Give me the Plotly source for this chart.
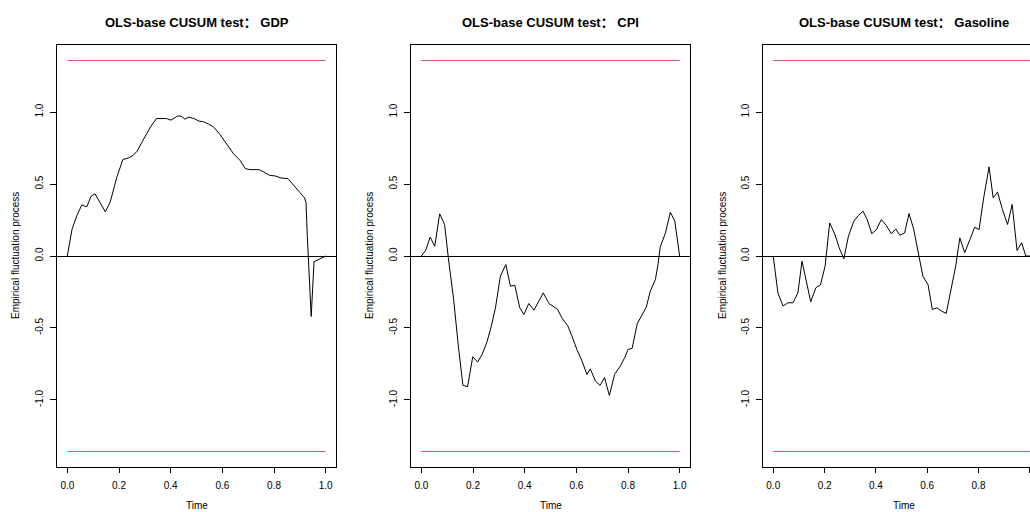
import plotly.graph_objects as go

# ---------------- data ----------------
time_gdp = [0.0, 0.018, 0.036, 0.056, 0.075, 0.092, 0.107, 0.147, 0.166, 0.192, 0.215, 0.238,
            0.254, 0.270, 0.293, 0.322, 0.345, 0.384, 0.401, 0.426, 0.440, 0.455, 0.471, 0.490,
            0.510, 0.527, 0.546, 0.565, 0.591, 0.617, 0.643, 0.669, 0.689, 0.708, 0.743, 0.760,
            0.783, 0.805, 0.827, 0.854, 0.876, 0.900, 0.918, 0.924, 0.929, 0.933, 0.944, 0.955,
            0.966, 1.0]
gdp = [0.0, 0.184, 0.277, 0.355, 0.341, 0.415, 0.432, 0.307, 0.376, 0.550, 0.670, 0.682,
       0.698, 0.728, 0.804, 0.897, 0.955, 0.955, 0.944, 0.972, 0.972, 0.951, 0.965, 0.955,
       0.937, 0.933, 0.917, 0.898, 0.844, 0.779, 0.711, 0.663, 0.607, 0.600, 0.600, 0.584,
       0.560, 0.556, 0.542, 0.537, 0.488, 0.442, 0.405, 0.372, 0.135, 0.0, -0.42, -0.04,
       -0.03, 0.0]

time_cpi = [0.0, 0.017, 0.034, 0.052, 0.071, 0.090, 0.105, 0.125, 0.144, 0.161, 0.179, 0.199,
            0.218, 0.235, 0.254, 0.271, 0.287, 0.306, 0.327, 0.345, 0.362, 0.381, 0.397, 0.416,
            0.436, 0.455, 0.472, 0.494, 0.527, 0.546, 0.566, 0.583, 0.602, 0.622, 0.641, 0.654,
            0.674, 0.692, 0.709, 0.728, 0.748, 0.770, 0.787, 0.800, 0.816, 0.836, 0.851, 0.871,
            0.886, 0.906, 0.916, 0.925, 0.945, 0.964, 0.981, 1.0]
cpi = [0.0, 0.04, 0.131, 0.068, 0.293, 0.219, -0.02, -0.302, -0.638, -0.899, -0.908, -0.70,
       -0.737, -0.684, -0.598, -0.487, -0.36, -0.14, -0.059, -0.21, -0.204, -0.36, -0.406, -0.33,
       -0.376, -0.313, -0.256, -0.33, -0.37, -0.436, -0.482, -0.557, -0.649, -0.73, -0.823, -0.784,
       -0.869, -0.899, -0.845, -0.969, -0.823, -0.765, -0.707, -0.649, -0.642, -0.469, -0.418, -0.355,
       -0.245, -0.164, -0.06, 0.064, 0.161, 0.304, 0.242, 0.0]

time_gas = [0.0, 0.018, 0.038, 0.057, 0.077, 0.096, 0.112, 0.129, 0.146, 0.166, 0.184, 0.202,
            0.220, 0.240, 0.257, 0.275, 0.293, 0.314, 0.331, 0.350, 0.366, 0.384, 0.402, 0.421,
            0.441, 0.460, 0.477, 0.493, 0.512, 0.529, 0.547, 0.564, 0.583, 0.603, 0.620, 0.638,
            0.656, 0.674, 0.694, 0.711, 0.727, 0.746, 0.766, 0.785, 0.802, 0.820, 0.841, 0.857,
            0.874, 0.893, 0.913, 0.931, 0.950, 0.968, 0.984, 1.0]
gas = [0.0, -0.256, -0.348, -0.325, -0.325, -0.256, -0.036, -0.185, -0.318, -0.22, -0.20, -0.07,
       0.23, 0.15, 0.057, -0.02, 0.138, 0.242, 0.28, 0.311, 0.253, 0.155, 0.183, 0.253,
       0.211, 0.155, 0.188, 0.144, 0.16, 0.295, 0.188, 0.033, -0.14, -0.198, -0.371, -0.36,
       -0.383, -0.399, -0.22, -0.07, 0.126, 0.023, 0.112, 0.2, 0.183, 0.404, 0.619, 0.404,
       0.444, 0.323, 0.219, 0.358, 0.038, 0.092, 0.0, 0.0]

boundary = 1.358
boundary_time = [0.0, 1.0]

x_ticks = [0.0, 0.2, 0.4, 0.6, 0.8, 1.0]
x_tick_labels = ["0.0", "0.2", "0.4", "0.6", "0.8", "1.0"]
y_ticks = [-1.0, -0.5, 0.0, 0.5, 1.0]
y_tick_labels = ["-1.0", "-0.5", "0.0", "0.5", "1.0"]

titles = ["OLS-base CUSUM test\uff1a GDP", "OLS-base CUSUM test\uff1a CPI",
          "OLS-base CUSUM test\uff1a Gasoline"]
x_title = "Time"
y_title = "Empirical fluctuation process"

series = [(time_gdp, gdp), (time_cpi, cpi), (time_gas, gas)]

# ---------------- layout geometry (pixels) ----------------
W, H = 1030, 512
box_left = [57, 411, 764]
box_w = 279
plot_top, plot_bot = 45, 467
FONT = "Liberation Sans, Arial, Noto Sans CJK SC, sans-serif"
RED = "#DF536B"

fig = go.Figure()
annotations = []
for i, (t, v) in enumerate(series):
    n = "" if i == 0 else str(i + 1)
    xa, ya = "x" + n, "y" + n
    fig.add_trace(go.Scatter(x=t, y=v, mode="lines", xaxis=xa, yaxis=ya,
                             line=dict(color="#000000", width=1), showlegend=False,
                             hoverinfo="skip"))
    for s in (1, -1):
        fig.add_trace(go.Scatter(x=boundary_time, y=[s * boundary] * len(boundary_time),
                                 mode="lines", xaxis=xa, yaxis=ya,
                                 line=dict(color=RED, width=1), showlegend=False,
                                 hoverinfo="skip"))

    left = box_left[i]
    if i < 2:
        dom = [left / W, (left + box_w) / W]
        xr = [-0.04, 1.04]
    else:
        dom = [(left - 1) / W, 1.0]
        xr = [-0.04, 1.0005]
    axis_common = dict(showgrid=False, showline=True, linecolor="#000000", linewidth=1,
                       ticks="outside", tickcolor="#000000", tickwidth=1,
                       tickfont=dict(family=FONT, size=10, color="#000000"))
    fig.layout["xaxis" + n] = dict(
        domain=dom, range=xr, anchor=ya, mirror=True, zeroline=False,
        tickvals=x_ticks, ticktext=x_tick_labels, ticklen=5, ticklabelstandoff=4,
        **axis_common)
    fig.layout["yaxis" + n] = dict(
        domain=[(H - plot_bot) / H, (H - plot_top) / H], range=[-1.466, 1.466],
        anchor=xa, mirror=(i < 2), zeroline=True, zerolinecolor="#000000", zerolinewidth=1,
        tickvals=y_ticks, ticktext=y_tick_labels, ticklen=6, tickangle=-90,
        ticklabelstandoff=3, **axis_common)

    cx = (left + box_w / 2) / W
    annotations.append(dict(text="<b>" + titles[i] + "</b>", x=cx, y=1 - 22 / H,
                            xref="paper", yref="paper", showarrow=False,
                            xanchor="center", yanchor="middle",
                            font=dict(family=FONT, size=13, color="#000000")))
    annotations.append(dict(text=x_title, x=cx, y=1 - 505.5 / H, xref="paper", yref="paper",
                            showarrow=False, xanchor="center", yanchor="middle",
                            font=dict(family=FONT, size=10, color="#000000")))
    annotations.append(dict(text=y_title, x=(left - 42) / W,
                            y=1 - ((plot_top + plot_bot) / 2) / H,
                            xref="paper", yref="paper", showarrow=False, textangle=-90,
                            xanchor="center", yanchor="middle",
                            font=dict(family=FONT, size=10, color="#000000")))

fig.update_layout(width=W, height=H, margin=dict(l=0, r=0, t=0, b=0),
                  paper_bgcolor="white", plot_bgcolor="white",
                  annotations=annotations, showlegend=False)

fig.write_html("out.html")
